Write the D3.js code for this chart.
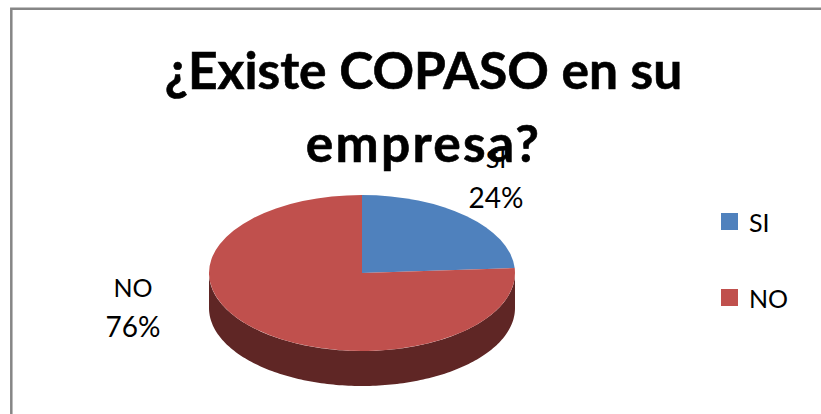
<!DOCTYPE html>
<html>
<head>
<meta charset="utf-8">
<script src="https://cdn.jsdelivr.net/npm/d3@7"></script>
<style>
html, body { margin: 0; padding: 0; background: #fff; }
svg { display: block; }
text { font-family: Lato, "Open Sans", sans-serif; fill: #000; }
</style>
</head>
<body>
<svg id="chart" width="821" height="414"></svg>
<script>
const categories = ["SI", "NO"];
const values = [24, 76];
const titleLines = ["¿Existe COPASO en su", "empresa?"];

const colors = d3.scaleOrdinal().domain(categories).range(["#4f81bd", "#c0504d"]);
const wallColor = "#5f2625";

const svg = d3.select("#chart");

// chart frame, only left and top sides show in the crop
svg.append("path")
    .attr("d", "M11.3,414V8.7H821")
    .attr("fill", "none")
    .attr("stroke", "#868686")
    .attr("stroke-width", 2.5);

const rx = 153;
const ry = 78;
const depth = 35;
const cx = 362;
const cy = 273;

const pie = d3.pie().sort(null).value(d => d.value);
const slices = pie(categories.map((c, i) => ({ name: c, value: values[i] })));

// unit arc, squashed to an ellipse by the group transform
const arc = d3.arc().innerRadius(0).outerRadius(1);

// side wall of the disc: front half of the rim pushed down by depth
const wall = d3.area()
    .x(a => cx + rx * Math.sin(a))
    .y0(a => cy - ry * Math.cos(a))
    .y1(a => cy - ry * Math.cos(a) + depth);

svg.append("path")
    .attr("d", wall(d3.range(Math.PI / 2, Math.PI * 1.5 + 0.01, 0.02)))
    .attr("fill", wallColor);

svg.append("g")
    .attr("transform", `translate(${cx},${cy}) scale(${rx},${ry})`)
    .selectAll("path")
    .data(slices)
    .join("path")
    .attr("d", arc)
    .attr("fill", d => colors(d.data.name));

// second line runs wider in the reference font, hence the spacing
svg.append("g")
    .selectAll("text")
    .data(titleLines)
    .join("text")
    .attr("x", 423.5)
    .attr("y", (d, i) => 89 + i * 73)
    .attr("text-anchor", "middle")
    .attr("font-size", 51.5)
    .attr("font-weight", "bold")
    .attr("stroke", "#000")
    .attr("stroke-width", 0.6)
    .attr("letter-spacing", (d, i) => (i ? 2.3 : 0))
    .text(d => d);

// data labels, name above percent
const labelPos = [[496, 168], [133, 297]];
const labels = svg.append("g")
    .selectAll("g")
    .data(slices)
    .join("g")
    .attr("transform", (d, i) => `translate(${labelPos[i]})`)
    .attr("text-anchor", "middle")
    .attr("font-size", 25);
labels.append("text").text(d => d.data.name);
labels.append("text")
    .attr("y", 40)
    .attr("font-size", 28)
    .text(d => `${d.data.value}%`);

// legend
const legendY = d3.scalePoint().domain(categories).range([221.5, 297.5]);
const legend = svg.append("g")
    .selectAll("g")
    .data(categories)
    .join("g")
    .attr("transform", d => `translate(721,${legendY(d)})`);
legend.append("rect")
    .attr("y", -8.5)
    .attr("width", 17)
    .attr("height", 17)
    .attr("fill", d => colors(d));
legend.append("text")
    .attr("x", 28)
    .attr("y", 10)
    .attr("font-size", 25)
    .text(d => d);
</script>
</body>
</html>
